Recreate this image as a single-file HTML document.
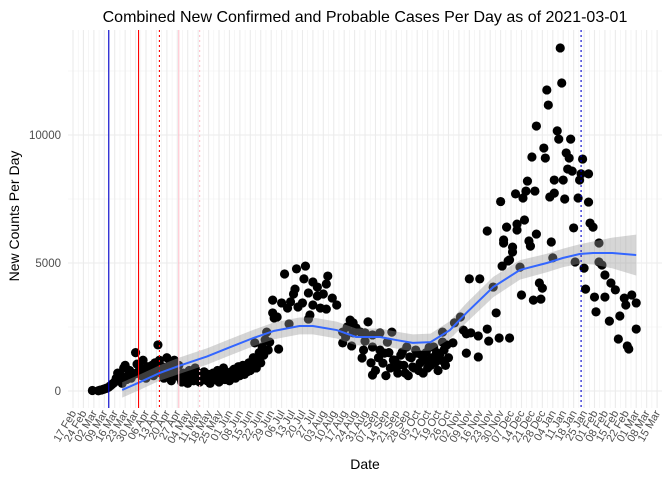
<!DOCTYPE html>
<html><head><meta charset="utf-8">
<style>
html,body{margin:0;padding:0;background:#fff;}
svg{display:block;font-family:"Liberation Sans",sans-serif;}
</style></head>
<body>
<svg id="chart" width="672" height="480" viewBox="0 0 672 480" xmlns="http://www.w3.org/2000/svg">
<text x="365" y="22" text-anchor="middle" font-size="16" fill="#000">Combined New Confirmed and Probable Cases Per Day as of 2021-03-01</text>
<g id="grid"></g>
<g id="yaxis"></g>
<g id="xaxis"></g>
<g id="ribbon"></g>
<g id="points"></g>
<g id="smooth"></g>
<g id="vlines"></g>
<text x="365" y="469" text-anchor="middle" font-size="14" fill="#000">Date</text>
<text transform="translate(19,216) rotate(-90)" text-anchor="middle" font-size="14" fill="#000">New Counts Per Day</text>
</svg>
<script>
// days since 2020-02-17
const pointDays = [13,17,18,19,20,21,22,23,24,25,26,27,28,29,30,31,32,33,34,35,36,37,38,39,40,41,42,43,44,45,46,47,48,49,50,51,52,53,54,55,56,57,58,59,60,61,62,63,64,65,66,67,68,69,70,71,
72,73,74,75,76,77,78,79,80,81,82,83,84,85,86,87,88,89,90,91,92,93,94,95,96,97,98,99,100,101,102,103,104,105,106,107,108,109,110,111,112,113,114,115,116,117,118,119,120,121,122,123,124,125,126,127,128,129,130,131,132,
134,134,135,137,138,140,142,144,145,146,148,149,150,151,154,155,156,158,158,159,161,161,164,164,166,168,170,170,171,174,177,181,181,183,184,186,187,188,188,190,
193,194,195,196,196,198,201,201,201,206,206,207,208,209,211,214,215,217,219,221,223,224,226,228,231,
200,203,205,210,212,213,216,218,220,222,225,227,229,230,232,233,234,235,236,237,238,239,240,241,242,243,244,245,246,247,249,250,251,252,
242,248,248,255,256,260,262,264,264,266,267,272,272,273,278,278,279,282,284,286,287,288,289,289,291,292,293,293,295,295,297,298,298,300,301,302,303,304,305,306,307,308,309,310,311,311,313,314,315,316,317,318,319,320,321,322,323,323,325,326,327,328,329,330,331,332,333,334,335,336,337,339,340,341,342,343,344,346,346,347,349,350,351,353,353,355,357,357,360,361,364,366,367,370,371,372,373,375,378,378];
const pointCases = [20,10,30,40,60,80,100,120,150,200,250,300,350,500,700,400,600,300,900,1000,450,600,800,500,700,650,1500,1050,750,900,600,1200,850,500,950,700,800,1000,600,1100,900,1800,1200,700,950,500,800,1300,650,1050,400,900,1200,700,600,1000,
500,350,700,450,600,300,800,500,650,400,900,550,700,350,600,450,750,500,400,650,300,550,700,450,600,800,350,500,650,900,450,700,550,400,750,600,850,500,700,950,600,800,1000,650,900,750,1100,800,1000,1300,1880,900,1200,1500,1100,1720,1400,2000,2300,1600,1910,
3550,3050,2850,2890,1640,3440,4570,3240,2620,3480,3790,3980,4770,3280,3440,4380,4880,3830,2810,2970,4260,3360,4060,3710,3240,3790,4180,3200,4490,3630,3360,1880,2300,2110,2500,2770,1760,2660,2270,2460,
2300,1290,1600,2270,1950,2700,625,2190,1720,2270,1600,1520,1090,1480,1910,2300,1210,900,1020,1520,700,1720,1330,940,1480,
1100,800,1300,600,1500,900,1200,700,1400,1000,600,1300,900,1600,800,1100,1400,700,1200,1500,900,1700,1000,1300,1720,1100,1500,800,1400,1200,1600,1000,1800,1300,
1300,1910,2300,1880,2660,2890,2380,2230,1480,4380,2270,2150,1330,4380,2420,6250,1950,4060,3050,2070,7400,4880,5900,5780,6400,5080,5120,2070,5620,5430,7700,6520,6290,4840,3750,7540,6680,7810,8200,5860,5660,9140,3550,7810,10350,6130,4220,3590,4020,9490,9100,11760,11170,7580,5820,5200,8240,7730,10160,9840,13400,12030,8240,7500,9300,8670,9100,9840,8590,6370,5040,7540,8240,8480,9060,4800,3980,8480,7380,6560,6400,3670,3090,5040,5780,4920,4530,3670,2730,4220,3950,2030,2930,3630,3360,1760,1640,3750,3440,2420,2230];
// smoothed fit
const smoothDays = [33,45,58,72,90,105,121,135,152,161,177,190,206,217,228,240,253,264,282,300,318,329,340,349,362,378];
const smoothCases = [40,350,700,1000,1350,1700,2070,2350,2540,2540,2380,2110,2110,1990,1880,1910,2380,3050,4060,4730,5000,5200,5350,5390,5390,5310];
const smoothErr = [300,300,300,320,320,320,320,330,330,330,330,330,330,330,330,330,350,380,400,380,360,360,380,450,600,800];
// event lines
const eventDays = [24,44,58,71,85,341];
const eventColors = ["#0000cc","#ff0000","#ff0000","#ffc0cb","#ffc0cb","#0000cc"];
const eventDashes = ["","","2,3","","2,3","2,3"];
const yTicks = [0,5000,10000];
const yMinor = [2500,7500,12500];

const NS="http://www.w3.org/2000/svg";
const X0=73, DX=1.49, Y0=391, DY=0.0256, TOP=30, BOT=408, LEFT=68, RIGHT=662;
const x=d=>X0+d*DX, y=v=>Y0-v*DY;
function mk(tag,attrs,parent){const e=document.createElementNS(NS,tag);for(const k in attrs)e.setAttribute(k,attrs[k]);parent.appendChild(e);return e;}
const grid=document.getElementById('grid');
for(const v of yMinor){const l=mk('line',{x1:LEFT,x2:RIGHT,y1:y(v),y2:y(v),stroke:'#f0f0f0','stroke-width':0.6},grid);

}
const yaxis=document.getElementById('yaxis');
for(const v of yTicks){const l=mk('line',{x1:LEFT,x2:RIGHT,y1:y(v),y2:y(v),stroke:'#ebebeb','stroke-width':1.1},grid);


const t=mk('text',{x:LEFT-7,y:y(v)+4,'text-anchor':'end','font-size':11.5,fill:'#4d4d4d'},yaxis);t.textContent=v;

}
const xaxis=document.getElementById('xaxis');
const months=["Jan","Feb","Mar","Apr","May","Jun","Jul","Aug","Sep","Oct","Nov","Dec"];
const start=Date.UTC(2020,1,17);
for(let w=0;w<=56;w++){const d=w*7;
const l=mk('line',{x1:x(d),x2:x(d),y1:TOP,y2:BOT,stroke:'#ebebeb','stroke-width':1.1},grid);


if(w<56){const m=mk('line',{x1:x(d+3.5),x2:x(d+3.5),y1:TOP,y2:BOT,stroke:'#f0f0f0','stroke-width':0.6},grid);

}
const dt=new Date(start+d*86400000);const lab=String(dt.getUTCDate()).padStart(2,'0')+' '+months[dt.getUTCMonth()];
const t=mk('text',{x:0,y:0,'text-anchor':'end','font-size':11,fill:'#4d4d4d',transform:`translate(${x(d)+3.5},${BOT+5}) rotate(-60)`},xaxis);t.textContent=lab;

}
// ribbon
let up=smoothDays.map((d,i)=>`${x(d)},${y(smoothCases[i]+smoothErr[i])}`);
let dn=smoothDays.map((d,i)=>`${x(d)},${y(smoothCases[i]-smoothErr[i])}`).reverse();
const rb=mk('polygon',{points:up.concat(dn).join(' '),fill:'#999999','fill-opacity':0.4},document.getElementById('ribbon'));


const pts=document.getElementById('points');
pointDays.forEach((d,i)=>{const c=mk('circle',{cx:x(d),cy:y(pointCases[i]),r:4.6,fill:'#000'},pts);

});
document.getElementById('chart').insertBefore(document.getElementById('points'),document.getElementById('ribbon'));
const sl=mk('polyline',{points:smoothDays.map((d,i)=>`${x(d)},${y(smoothCases[i])}`).join(' '),fill:'none',stroke:'#3366FF','stroke-width':2},document.getElementById('smooth'));


const vl=document.getElementById('vlines');
eventDays.forEach((d,i)=>{const l=mk('line',{x1:x(d),x2:x(d),y1:TOP,y2:BOT,stroke:eventColors[i],'stroke-width':1.1},vl);
if(eventDashes[i])l.setAttribute('stroke-dasharray',eventDashes[i]);

});
</script>
</body></html>
